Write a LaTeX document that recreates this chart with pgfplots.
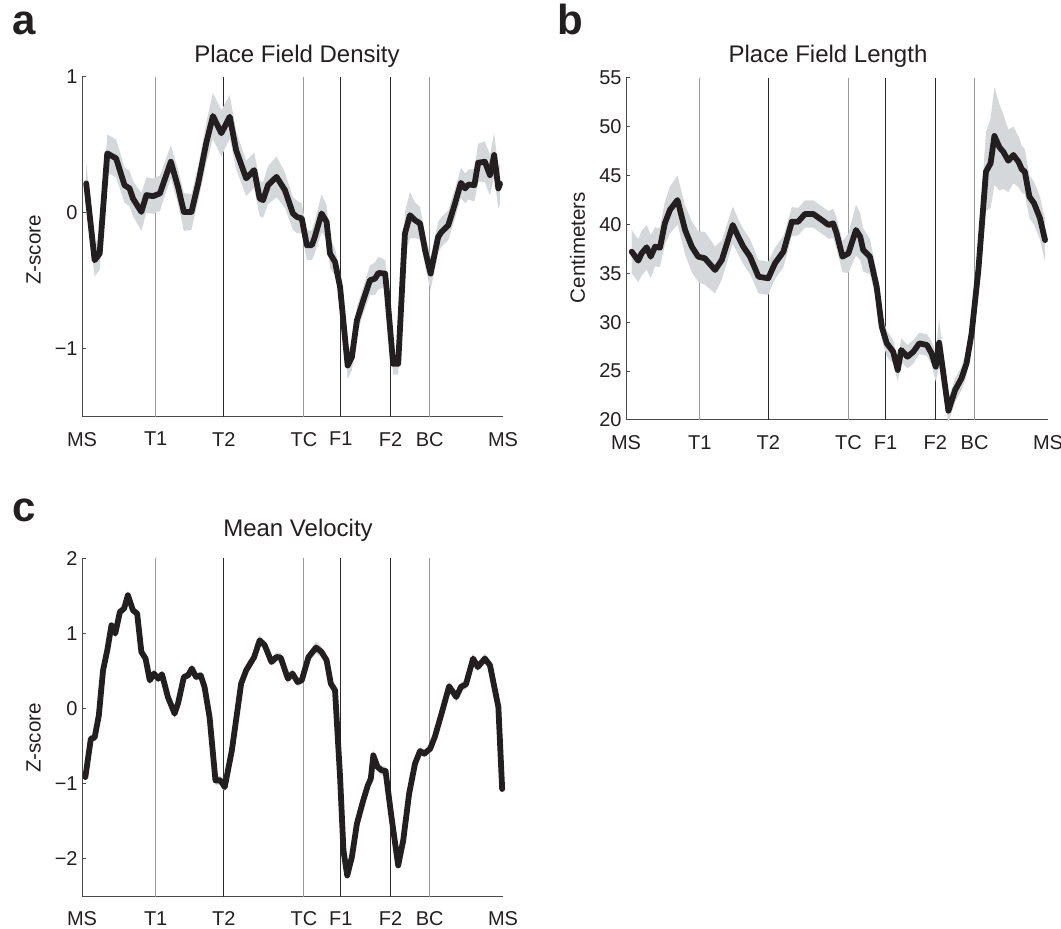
\documentclass[border=0pt]{standalone}
\usepackage{fontspec}
\setmainfont{Liberation Sans}
\usepackage{pgfplots}
\usepackage{pgfplotstable}
\pgfplotsset{compat=1.18}

\definecolor{ink}{HTML}{231F20}
\definecolor{band}{HTML}{D5D8DB}
\definecolor{axisline}{HTML}{4A4A4A}
\definecolor{lightmark}{HTML}{9A9A9A}
\definecolor{darkmark}{HTML}{2A2A2A}

% position along the track (0-100), mean, s.e.m.
\pgfplotstableread{
x y e
1.0 0.217 0.15
3.0 -0.349 0.12
4.2 -0.299 0.12
6.0 0.438 0.14
8.1 0.401 0.14
10.1 0.204 0.13
11.3 0.180 0.13
12.1 0.106 0.13
14.1 0.007 0.14
15.3 0.131 0.13
16.9 0.123 0.13
18.5 0.143 0.13
21.1 0.376 0.12
22.8 0.192 0.13
24.2 0.007 0.14
26.0 0.007 0.13
27.6 0.217 0.13
29.5 0.512 0.15
31.1 0.713 0.17
33.1 0.586 0.17
35.1 0.708 0.16
36.6 0.462 0.14
39.0 0.254 0.13
40.9 0.315 0.13
42.2 0.106 0.13
43.0 0.094 0.13
44.2 0.204 0.14
46.2 0.265 0.15
48.2 0.167 0.13
50.1 -0.004 0.12
51.0 -0.029 0.12
52.2 -0.041 0.11
53.4 -0.238 0.11
54.6 -0.238 0.11
55.3 -0.177 0.12
56.9 -0.004 0.14
58.1 -0.066 0.12
58.9 -0.299 0.11
60.1 -0.361 0.10
61.3 -0.546 0.10
63.1 -1.123 0.10
64.1 -1.062 0.10
65.3 -0.791 0.10
66.8 -0.644 0.10
68.4 -0.496 0.11
69.6 -0.484 0.12
70.4 -0.442 0.12
72.0 -0.447 0.10
72.4 -0.570 0.09
73.9 -1.111 0.08
75.1 -1.111 0.08
76.7 -0.152 0.16
77.9 -0.017 0.17
79.1 -0.054 0.13
80.3 -0.078 0.12
81.5 -0.275 0.12
82.8 -0.447 0.12
84.6 -0.177 0.11
85.4 -0.140 0.11
87.0 -0.091 0.11
88.6 0.069 0.11
90.0 0.221 0.11
91.0 0.180 0.11
91.8 0.209 0.11
93.2 0.204 0.12
94.1 0.369 0.14
95.7 0.376 0.15
96.9 0.278 0.15
97.9 0.426 0.16
98.9 0.180 0.15
99.3 0.215 0.15
}\densitytab

\pgfplotstableread{
x y e
1.35 37.21 2.2
2.9 36.29 2.2
3.7 37.04 2.3
4.9 37.66 2.3
5.85 36.70 2.2
6.9 37.72 2.0
8.05 37.62 2.0
9.2 40.11 2.2
10.4 41.47 2.4
12.2 42.49 2.5
14.0 39.43 2.5
15.6 37.72 2.6
17.1 36.70 2.6
18.7 36.53 2.7
21.1 35.34 2.4
22.7 36.36 2.0
25.3 39.94 1.9
26.6 38.74 1.8
27.8 37.72 1.8
29.4 36.70 1.8
31.4 34.65 1.7
33.7 34.49 1.7
35.3 36.02 1.6
37.3 37.21 1.6
39.3 40.28 1.5
40.8 40.28 1.4
42.4 41.06 1.4
44.4 41.06 1.4
46.4 40.45 1.4
48.0 39.94 1.4
49.1 40.11 1.5
49.9 39.09 1.6
51.3 36.70 1.6
52.7 37.04 2.0
54.5 39.43 2.6
55.5 38.74 2.4
56.2 37.38 2.2
57.8 36.70 1.8
59.4 33.63 1.5
60.6 29.54 1.3
61.8 27.84 1.3
63.3 26.98 1.2
64.4 25.11 1.2
65.2 27.16 1.2
66.7 26.47 1.2
68.1 26.98 1.2
69.5 27.84 1.1
71.3 27.67 1.1
72.4 26.82 1.2
73.4 25.45 1.5
74.2 27.90 2.5
75.2 24.78 2.0
76.4 20.95 1.2
78.0 23.07 1.2
79.5 24.26 1.2
80.7 25.80 1.3
81.9 28.86 1.5
83.5 35.34 2.8
85.3 45.39 4.0
86.4 46.25 4.6
87.3 49.04 5.0
88.5 47.88 4.4
89.4 47.43 3.8
90.6 46.51 3.2
91.8 47.10 2.9
93.0 46.41 2.6
93.8 45.63 2.4
94.5 45.39 2.3
95.6 42.83 2.2
96.7 42.16 2.2
98.1 40.62 2.2
99.3 38.40 2.2
}\lengthtab

\pgfplotstableread{
x y e
0.8 -0.911 0.06
2.1 -0.399 0.05
3.0 -0.386 0.05
4.0 -0.089 0.05
5.0 0.510 0.05
6.0 0.776 0.05
7.0 1.109 0.05
7.9 0.999 0.05
9.0 1.286 0.05
10.0 1.332 0.06
10.9 1.509 0.06
12.1 1.309 0.05
13.1 1.265 0.05
14.1 0.754 0.05
15.1 0.666 0.05
16.1 0.377 0.06
17.1 0.466 0.06
18.1 0.399 0.05
19.0 0.457 0.05
20.4 0.155 0.05
22.0 -0.067 0.07
22.8 0.067 0.06
24.2 0.421 0.05
25.2 0.443 0.05
26.1 0.533 0.06
27.1 0.421 0.05
28.2 0.443 0.05
29.1 0.288 0.05
30.3 -0.112 0.05
31.7 -0.955 0.06
32.9 -0.955 0.06
33.9 -1.044 0.06
35.6 -0.555 0.05
37.8 0.333 0.05
39.0 0.510 0.05
40.9 0.687 0.05
42.2 0.909 0.06
43.4 0.843 0.06
45.0 0.621 0.05
46.2 0.687 0.06
47.2 0.679 0.06
48.9 0.399 0.06
50.0 0.466 0.06
51.2 0.354 0.06
52.2 0.377 0.05
53.8 0.687 0.06
55.6 0.812 0.08
56.9 0.754 0.07
58.1 0.643 0.06
59.1 0.333 0.06
60.1 0.244 0.06
61.3 -0.911 0.05
62.1 -1.887 0.06
63.0 -2.220 0.06
64.1 -1.976 0.06
65.3 -1.531 0.05
66.8 -1.221 0.05
67.9 -1.021 0.05
68.6 -0.932 0.05
69.2 -0.622 0.07
70.2 -0.777 0.06
71.2 -0.821 0.06
72.1 -0.830 0.06
73.4 -1.398 0.05
75.1 -2.086 0.06
76.3 -1.753 0.05
77.7 -1.132 0.05
79.1 -0.732 0.05
80.3 -0.564 0.05
81.3 -0.599 0.05
82.7 -0.533 0.05
83.8 -0.378 0.05
85.4 -0.067 0.05
87.2 0.297 0.06
88.9 0.155 0.07
90.0 0.288 0.06
91.2 0.324 0.06
92.9 0.666 0.07
94.0 0.554 0.06
95.7 0.666 0.07
96.9 0.577 0.06
98.1 0.244 0.06
98.9 0.021 0.06
99.8 -1.070 0.06
}\velocitytab

\pgfplotsset{
  track/.style={
    scale only axis,
    axis x line*=bottom, axis y line*=left,
    xmin=0, xmax=100,
    xtick={0,17.5,33.7,52.7,61.5,73.3,82.6,100},
    xticklabels={MS,T1,T2,TC,F1,F2,BC,MS},
    x tick style={draw=none},
    y tick style={axisline, line width=0.5pt},
    tick align=inside,
    major tick length=2pt,
    axis line style={axisline, line width=0.5pt},
    ticklabel style={font=\fontsize{10}{12}\selectfont, text=ink},
    xticklabel style={inner sep=0pt, anchor=north, yshift=-7.5pt},
    yticklabel style={inner sep=0pt, anchor=east, xshift=-2pt},
    clip=false,
  },
}

% maze landmarks: light lines at T1, TC, BC; dark lines at T2, F1, F2
\newcommand\landmarks[2]{%
  \addplot[lightmark, line width=0.5pt] coordinates {(17.5,#1) (17.5,#2)};
  \addplot[darkmark, line width=0.5pt] coordinates {(33.7,#1) (33.7,#2)};
  \addplot[lightmark, line width=0.5pt] coordinates {(52.7,#1) (52.7,#2)};
  \addplot[darkmark, line width=0.5pt] coordinates {(61.5,#1) (61.5,#2)};
  \addplot[darkmark, line width=0.5pt] coordinates {(73.3,#1) (73.3,#2)};
  \addplot[lightmark, line width=0.5pt] coordinates {(82.6,#1) (82.6,#2)};
}

% mean with shaded s.e.m. band (band = lower edge + stacked width)
\newcommand\meanband[1]{%
  \addplot[draw=none, stack plots=y] table[x=x, y expr=\thisrow{y}-\thisrow{e}] {#1};
  \addplot[fill=band, draw=none, stack plots=y] table[x=x, y expr=2*\thisrow{e}] {#1} \closedcycle;
  \addplot[ink, line width=2.9pt, line join=round, line cap=round, stack plots=false] table[x=x, y=y] {#1};
}

\begin{document}
\begin{tikzpicture}
\path[use as bounding box] (0,0) rectangle (530.5pt,464pt);

% a: place field density
\begin{axis}[track, at={(41pt,255.65pt)}, anchor=south west,
  width=210.5pt, height=169.85pt,
  ymin=-1.5, ymax=1, ytick={-1,0,1}, yticklabels={−1,0,1}]
  \landmarks{-1.5}{1}
  \meanband{\densitytab}
\end{axis}

% b: place field length
\begin{axis}[track, at={(313pt,254pt)}, anchor=south west,
  width=211pt, height=171.15pt,
  ymin=20, ymax=55, ytick={20,25,30,35,40,45,50,55},
  yticklabels={20,25,30,35,40,45,50,55}]
  \landmarks{20}{55}
  \meanband{\lengthtab}
\end{axis}

% c: mean velocity
\begin{axis}[track, at={(41pt,15.75pt)}, anchor=south west,
  width=210.5pt, height=169.1pt,
  ymin=-2.5, ymax=2, ytick={-2,-1,0,1,2}, yticklabels={−2,−1,0,1,2}]
  \landmarks{-2.5}{2}
  \meanband{\velocitytab}
\end{axis}

% panel letters, titles and axis labels
\begin{scope}[every node/.style={text=ink, inner sep=0pt}]
  \node[anchor=base west, font=\fontsize{21}{24}\selectfont\bfseries] at (6pt,446.5pt) {a};
  \node[anchor=base west, font=\fontsize{21}{24}\selectfont\bfseries] at (278.5pt,446.5pt) {b};
  \node[anchor=base west, font=\fontsize{21}{24}\selectfont\bfseries] at (6pt,203.15pt) {c};
  \node[anchor=base, font=\fontsize{12}{14}\selectfont] at (148.5pt,432.65pt) {Place Field Density};
  \node[anchor=base, font=\fontsize{12}{14}\selectfont] at (414pt,432.65pt) {Place Field Length};
  \node[anchor=base, font=\fontsize{12}{14}\selectfont] at (149pt,195.65pt) {Mean Velocity};
  \node[rotate=90, font=\fontsize{10.3}{12}\selectfont] at (16.8pt,339pt) {Z-score};
  \node[rotate=90, font=\fontsize{10.3}{12}\selectfont] at (288.75pt,340.25pt) {Centimeters};
  \node[rotate=90, font=\fontsize{10.3}{12}\selectfont] at (16.8pt,95pt) {Z-score};
\end{scope}
\end{tikzpicture}
\end{document}
